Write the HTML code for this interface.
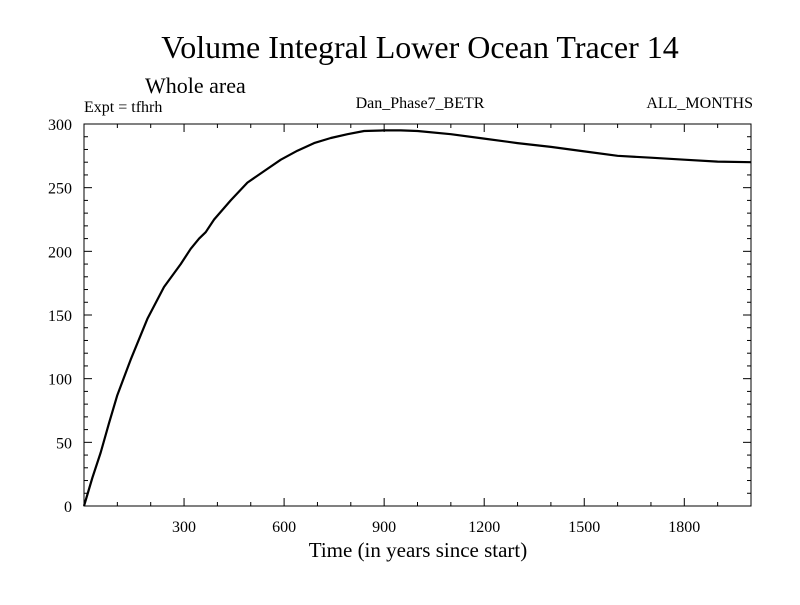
<!DOCTYPE html>
<html><head><meta charset="utf-8"><style>
body{margin:0;background:#fff}
svg text{font-family:"Liberation Serif",serif;fill:#000}
</style></head><body>
<svg width="800" height="600" xmlns="http://www.w3.org/2000/svg">
<text x="420" y="58" font-size="32" text-anchor="middle">Volume Integral Lower Ocean Tracer 14</text>
<text x="145" y="93" font-size="22">Whole area</text>
<text x="84" y="112" font-size="16">Expt = tfhrh</text>
<text x="420" y="108" font-size="16" text-anchor="middle">Dan_Phase7_BETR</text>
<text x="753" y="108" font-size="16" text-anchor="end">ALL_MONTHS</text>
<text x="418" y="557" font-size="21" text-anchor="middle">Time (in years since start)</text>
<g id="axes"></g>
<path id="line" fill="none" stroke="#000" stroke-width="2.2" stroke-linejoin="round"/>
</svg>
<script>
const years=[0,25,50,75,100,140,190,240,290,320,345,365,390,440,490,540,590,640,690,740,790,840,900,950,1000,1100,1200,1300,1400,1500,1600,1700,1800,1900,2000];
const values=[0,22,42,65,87,115,147,172,190,202,210,215,225,240,254,263,272,279,285,289,292,294.5,295,295,294.5,292,288.5,285,282,278.5,275,273.5,272,270.5,270];
const xTicks=[300,600,900,1200,1500,1800];
const yTicks=[0,50,100,150,200,250,300];
const L=84,R=751,T=124,B=506;
const X=v=>L+(v/2000)*(R-L), Y=v=>B-(v/300)*(B-T);
const g=document.getElementById('axes');
const ns='http://www.w3.org/2000/svg';
function ln(x1,y1,x2,y2,w){const e=document.createElementNS(ns,'line');e.setAttribute('x1',x1);e.setAttribute('y1',y1);e.setAttribute('x2',x2);e.setAttribute('y2',y2);e.setAttribute('stroke','#000');e.setAttribute('stroke-width',w||1);


g.appendChild(e);}
function tx(x,y,s,a){const e=document.createElementNS(ns,'text');e.setAttribute('x',x);e.setAttribute('y',y);e.setAttribute('font-size','16');e.setAttribute('text-anchor',a);e.textContent=s;


g.appendChild(e);}
const fr=document.createElementNS(ns,'rect');fr.setAttribute('x',L);fr.setAttribute('y',T);fr.setAttribute('width',R-L);fr.setAttribute('height',B-T);fr.setAttribute('fill','none');fr.setAttribute('stroke','#000');


g.appendChild(fr);
for(let v=100;v<2000;v+=100){const m=v%300===0?8:4;ln(X(v),B,X(v),B-m);ln(X(v),T,X(v),T+m);}
for(let v=10;v<300;v+=10){const m=v%50===0?8:4;ln(L,Y(v),L+m,Y(v));ln(R,Y(v),R-m,Y(v));}
xTicks.forEach(v=>tx(X(v),B+26,String(v),'middle'));
yTicks.forEach(v=>tx(L-12,Y(v)+6,String(v),'end'));
document.getElementById('line').setAttribute('d',years.map((y,i)=>(i?'L':'M')+X(y).toFixed(1)+','+Y(values[i]).toFixed(1)).join(''));
</script>
</body></html>
